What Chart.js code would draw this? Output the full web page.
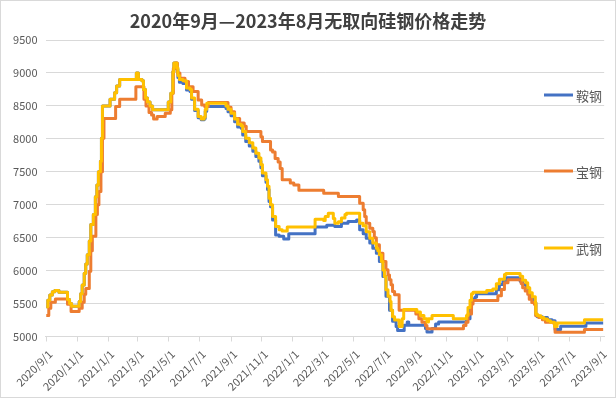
<!DOCTYPE html>
<html><head><meta charset="utf-8">
<script src="https://cdn.jsdelivr.net/npm/chart.js@4"></script>
<style>html,body{margin:0;padding:0;background:#fff}#wrap{width:616px;height:398px;position:relative}</style>
</head><body><div id="wrap"><canvas id="c" width="616" height="398"></canvas></div>
<script>
const chartTitle = '2020年9月—2023年8月无取向硅钢价格走势';
const seriesNames = ['鞍钢', '宝钢', '武钢'];
const seriesColors = ['#4472C4', '#ED7D31', '#FFC000'];
const tickLabels = ['2020/9/1','2020/11/1','2021/1/1','2021/3/1','2021/5/1','2021/7/1','2021/9/1','2021/11/1','2022/1/1','2022/3/1','2022/5/1','2022/7/1','2022/9/1','2022/11/1','2023/1/1','2023/3/1','2023/5/1','2023/7/1','2023/9/1'];
const yTicks = [5000, 5500, 6000, 6500, 7000, 7500, 8000, 8500, 9000, 9500];

// 武钢
const wugangDates = ['2020-09-01','2020-09-04','2020-09-08','2020-09-13','2020-09-18','2020-09-26','2020-10-13','2020-10-17','2020-10-21','2020-11-05','2020-11-08','2020-11-11','2020-11-15','2020-11-18','2020-11-21','2020-11-25','2020-11-28','2020-12-03','2020-12-07','2020-12-10','2020-12-13','2020-12-17','2020-12-19','2020-12-21','2021-01-05','2021-01-14','2021-01-18','2021-01-24','2021-02-26','2021-03-02','2021-03-09','2021-03-12','2021-03-16','2021-03-20','2021-03-25','2021-03-30','2021-04-30','2021-05-05','2021-05-09','2021-05-11','2021-05-17','2021-05-19','2021-05-22','2021-05-29','2021-06-05','2021-06-12','2021-06-15','2021-06-21','2021-06-28','2021-07-04','2021-07-10','2021-07-12','2021-07-15','2021-08-22','2021-08-26','2021-09-01','2021-09-08','2021-09-14','2021-09-21','2021-09-24','2021-09-30','2021-10-07','2021-10-14','2021-10-20','2021-10-26','2021-10-30','2021-11-02','2021-11-09','2021-11-12','2021-11-15','2021-11-18','2021-11-22','2021-11-28','2021-12-05','2021-12-11','2021-12-21','2022-02-14','2022-03-03','2022-03-06','2022-03-12','2022-03-22','2022-03-25','2022-04-01','2022-04-07','2022-04-14','2022-04-17','2022-05-13','2022-05-20','2022-05-26','2022-06-02','2022-06-08','2022-06-15','2022-06-18','2022-06-21','2022-06-25','2022-06-28','2022-07-01','2022-07-04','2022-07-08','2022-07-12','2022-07-14','2022-07-17','2022-07-21','2022-07-30','2022-08-05','2022-08-08','2022-09-03','2022-09-10','2022-09-17','2022-09-23','2022-09-26','2022-10-03','2022-11-14','2022-12-10','2022-12-13','2022-12-17','2022-12-20','2022-12-23','2023-01-19','2023-01-31','2023-02-07','2023-02-13','2023-02-23','2023-02-26','2023-03-26','2023-03-31','2023-04-06','2023-04-10','2023-04-14','2023-04-19','2023-04-25','2023-04-26','2023-04-29','2023-05-06','2023-05-12','2023-05-19','2023-05-25','2023-06-02','2023-06-07','2023-07-31','2023-09-06'];
const wugangPrices = [5450,5550,5630,5680,5700,5670,5560,5500,5460,5530,5650,5780,5960,6100,6240,6450,6700,6850,7120,7300,7500,7660,8010,8500,8600,8700,8800,8900,9000,8900,8880,8750,8620,8560,8500,8440,8560,8690,9020,9150,9080,8960,8900,8880,8770,8750,8620,8450,8340,8300,8330,8450,8540,8500,8450,8390,8300,8220,8200,8110,8010,7940,7860,7780,7710,7610,7480,7380,7280,7100,7000,6820,6670,6620,6600,6660,6780,6760,6820,6870,6790,6720,6740,6800,6850,6870,6720,6680,6590,6490,6420,6340,6300,6240,6140,6010,5910,5710,5610,5530,5400,5300,5250,5150,5270,5410,5370,5320,5270,5220,5270,5320,5270,5320,5440,5550,5650,5670,5700,5720,5800,5870,5940,5955,5915,5855,5815,5740,5665,5605,5515,5340,5315,5290,5265,5240,5215,5150,5205,5255,5255];

// 鞍钢
const angangDates = ['2020-09-01','2020-09-04','2020-09-08','2020-09-13','2020-09-18','2020-09-26','2020-10-13','2020-10-17','2020-10-21','2020-11-05','2020-11-08','2020-11-11','2020-11-15','2020-11-18','2020-11-21','2020-11-25','2020-11-28','2020-12-03','2020-12-07','2020-12-10','2020-12-13','2020-12-17','2020-12-19','2020-12-21','2021-01-05','2021-01-14','2021-01-18','2021-01-24','2021-02-26','2021-03-02','2021-03-09','2021-03-12','2021-03-16','2021-03-20','2021-03-25','2021-03-30','2021-04-30','2021-05-05','2021-05-09','2021-05-11','2021-05-17','2021-05-19','2021-05-22','2021-05-29','2021-06-05','2021-06-12','2021-06-15','2021-06-21','2021-06-28','2021-07-04','2021-07-10','2021-07-12','2021-07-15','2021-08-22','2021-08-26','2021-09-01','2021-09-08','2021-09-14','2021-09-21','2021-09-24','2021-09-30','2021-10-07','2021-10-14','2021-10-20','2021-10-26','2021-10-30','2021-11-02','2021-11-09','2021-11-12','2021-11-15','2021-11-18','2021-11-22','2021-11-28','2021-12-05','2021-12-14','2021-12-24','2022-02-14','2022-03-09','2022-03-25','2022-04-07','2022-04-20','2022-05-07','2022-05-13','2022-05-20','2022-05-26','2022-06-02','2022-06-08','2022-06-15','2022-06-21','2022-06-28','2022-07-04','2022-07-11','2022-07-17','2022-07-24','2022-07-27','2022-08-09','2022-08-15','2022-08-18','2022-09-20','2022-09-23','2022-10-03','2022-10-10','2022-10-16','2022-12-10','2022-12-17','2022-12-20','2022-12-27','2022-12-30','2023-02-07','2023-02-13','2023-02-20','2023-02-26','2023-03-26','2023-03-31','2023-04-07','2023-04-12','2023-04-16','2023-04-23','2023-04-26','2023-04-29','2023-05-09','2023-05-19','2023-05-28','2023-06-03','2023-06-14','2023-08-03','2023-09-06'];
const angangPrices = [5450,5550,5630,5680,5700,5670,5560,5500,5460,5530,5650,5780,5960,6100,6240,6450,6700,6850,7120,7300,7500,7660,8010,8500,8600,8700,8800,8900,9000,8900,8880,8750,8620,8560,8500,8440,8560,8690,9020,9150,9060,8930,8860,8840,8740,8720,8600,8430,8320,8290,8310,8420,8490,8460,8410,8350,8260,8180,8160,8060,7960,7890,7810,7730,7660,7560,7440,7340,7230,7050,6970,6770,6540,6520,6480,6560,6660,6690,6670,6720,6745,6770,6620,6560,6490,6420,6340,6265,6140,5910,5610,5400,5230,5150,5090,5170,5220,5170,5120,5070,5120,5190,5220,5270,5420,5570,5600,5650,5710,5790,5840,5890,5840,5790,5740,5660,5575,5515,5325,5300,5290,5255,5240,5105,5155,5205,5205];

// 宝钢
const baogangDates = ['2020-09-01','2020-09-06','2020-09-10','2020-09-19','2020-10-13','2020-10-20','2020-11-05','2020-11-11','2020-11-15','2020-11-18','2020-11-25','2020-11-28','2020-12-01','2020-12-08','2020-12-11','2020-12-14','2020-12-18','2020-12-21','2020-12-24','2021-01-16','2021-01-24','2021-02-25','2021-03-13','2021-03-17','2021-03-23','2021-03-28','2021-04-01','2021-04-08','2021-04-24','2021-05-04','2021-05-07','2021-05-10','2021-05-14','2021-05-18','2021-05-23','2021-06-02','2021-06-09','2021-06-18','2021-06-28','2021-07-05','2021-07-11','2021-07-18','2021-08-26','2021-09-01','2021-09-08','2021-09-18','2021-09-27','2021-10-01','2021-10-30','2021-11-02','2021-11-18','2021-11-22','2021-11-27','2021-12-03','2021-12-07','2021-12-11','2021-12-27','2022-01-03','2022-01-13','2022-03-03','2022-04-01','2022-05-13','2022-05-20','2022-05-23','2022-05-26','2022-06-02','2022-06-08','2022-06-11','2022-06-15','2022-06-21','2022-06-28','2022-07-04','2022-07-08','2022-07-11','2022-07-14','2022-07-17','2022-07-21','2022-07-30','2022-09-01','2022-09-07','2022-09-13','2022-09-20','2022-09-23','2022-12-04','2022-12-09','2022-12-13','2022-12-20','2022-12-23','2023-02-10','2023-02-17','2023-02-23','2023-03-02','2023-03-28','2023-03-31','2023-04-05','2023-04-10','2023-04-13','2023-04-18','2023-04-23','2023-04-26','2023-05-02','2023-05-09','2023-05-15','2023-06-01','2023-06-03','2023-07-31','2023-09-06'];
const baogangPrices = [5320,5430,5520,5570,5490,5380,5430,5520,5640,5730,5990,6300,6520,6850,7000,7200,7500,8010,8310,8490,8600,8790,8600,8500,8400,8360,8300,8340,8390,8440,8690,9070,9150,9000,8920,8870,8790,8720,8590,8515,8490,8550,8480,8410,8310,8240,8190,8110,8030,7960,7830,7800,7700,7650,7550,7380,7330,7300,7220,7175,7124,7024,6923,6820,6720,6644,6593,6500,6391,6265,6138,6012,5935,5860,5784,5683,5633,5400,5343,5268,5217,5167,5116,5167,5217,5343,5495,5545,5620,5715,5815,5860,5805,5740,5690,5640,5565,5515,5490,5315,5290,5255,5215,5190,5065,5105,5105];

function dayOf(s) {
  const p = s.split(/[-\/]/).map(Number);
  return (Date.UTC(p[0], p[1] - 1, p[2]) - Date.UTC(2020, 8, 1)) / 86400000;
}
function toPoints(dates, prices) { return dates.map((d, i) => ({ x: dayOf(d), y: prices[i] })); }
const tickDays = tickLabels.map(dayOf);

Chart.defaults.font.family = '"Noto Sans CJK SC", "Noto Sans", sans-serif';

const decor = {
  id: 'decor',
  afterDraw(chart) {
    const ctx = chart.ctx;
    ctx.save();
    ctx.fillStyle = '#404040';
    ctx.font = 'bold 18px "Noto Sans CJK SC"';
    ctx.textAlign = 'center';
    ctx.textBaseline = 'middle';
    ctx.fillText(chartTitle, 308, 21.5);
    const ly = [95, 171, 248];
    ctx.font = '13px "Noto Sans CJK SC"';
    ctx.textAlign = 'left';
    seriesNames.forEach((n, i) => {
      ctx.strokeStyle = seriesColors[i];
      ctx.lineWidth = 3;
      ctx.beginPath(); ctx.moveTo(544, ly[i]); ctx.lineTo(573, ly[i]); ctx.stroke();
      ctx.fillStyle = '#595959';
      ctx.fillText(n, 576, ly[i] + 1);
    });
    ctx.strokeStyle = '#D9D9D9';
    ctx.lineWidth = 1;
    ctx.strokeRect(0.5, 0.5, 615, 397);
    ctx.restore();
  }
};

const ds = (i, pts, order) => ({
  label: seriesNames[i], data: pts, borderColor: seriesColors[i], backgroundColor: seriesColors[i],
  borderWidth: 3, pointRadius: 0, stepped: true, fill: false, order, borderJoinStyle: 'round'
});

new Chart(document.getElementById('c'), {
  type: 'line',
  data: {
    datasets: [
      ds(0, toPoints(angangDates, angangPrices), 3),
      ds(1, toPoints(baogangDates, baogangPrices), 2),
      ds(2, toPoints(wugangDates, wugangPrices), 1)
    ]
  },
  options: {
    responsive: false, animation: false, devicePixelRatio: 1,
    layout: { padding: { top: 40, right: 5, left: 0, bottom: 0 } },
    plugins: { legend: { display: false }, title: { display: false }, tooltip: { enabled: false } },
    scales: {
      x: {
        type: 'linear', min: -1.5, max: 1102,
        afterBuildTicks: (axis) => { axis.ticks = tickDays.map(v => ({ value: v })); },
        afterFit: (axis) => { axis.height = 61.5; },
        ticks: {
          autoSkip: false, maxRotation: 45, minRotation: 45, padding: 6, labelOffset: 4,
          font: { size: 11 }, color: '#595959',
          callback: (v) => { const i = tickDays.indexOf(v); return i >= 0 ? tickLabels[i] : ''; }
        },
        grid: { drawOnChartArea: false, color: '#D9D9D9', tickLength: 5 },
        border: { color: '#D9D9D9' }
      },
      y: {
        min: yTicks[0], max: yTicks[yTicks.length - 1],
        afterBuildTicks: (axis) => { axis.ticks = yTicks.map(v => ({ value: v })); },
        afterFit: (axis) => { axis.width = 45.5; },
        ticks: { font: { size: 11 }, color: '#595959', padding: 8, callback: (v) => String(v) },
        grid: { color: '#D9D9D9', drawTicks: false },
        border: { display: false }
      }
    }
  },
  plugins: [decor]
});
</script></body></html>
